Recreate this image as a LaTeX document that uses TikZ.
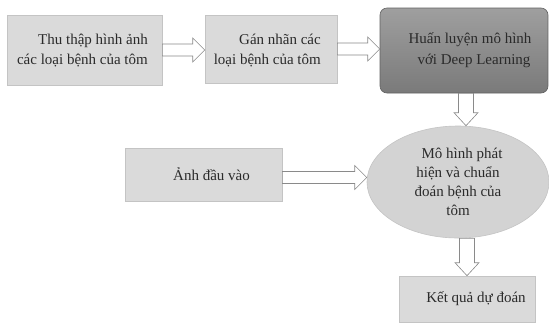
\documentclass[tikz,border=0pt]{standalone}
\usepackage{fontspec}
\setmainfont{Liberation Serif}
\usetikzlibrary{shapes.geometric,calc}
\definecolor{boxfill}{HTML}{DADADA}
\definecolor{boxline}{HTML}{C4C4C4}
\definecolor{darkfill}{HTML}{8E8E8E}
\definecolor{darkfillb}{HTML}{7A7A7A}
\definecolor{ellfill}{HTML}{D3D3D3}
\definecolor{txt}{HTML}{2A2A2A}
\definecolor{arrline}{HTML}{8A8A8A}
\tikzset{
  lbox/.style={draw=boxline, fill=boxfill, line width=0.6pt, inner sep=0pt,
    font=\fontsize{15}{20}\selectfont, text=txt},
  dbox/.style={draw=darkfillb!80!black, rounded corners=7pt, top color=darkfill!85!white,
    bottom color=darkfillb, line width=0.6pt, inner sep=0pt,
    font=\fontsize{15}{21}\selectfont, text=txt},
  ellbox/.style={ellipse, draw=boxline, fill=ellfill, line width=0.6pt, inner sep=0pt,
    font=\fontsize{15}{19}\selectfont, text=txt},
  plaintext/.style={font=\fontsize{15}{20}\selectfont, text=txt, align=right, anchor=east, inner sep=0pt},
  blockarrow/.style={draw=arrline, fill=white, line width=0.6pt, line join=miter}
}
\newcommand{\blockH}[2]{%
  \draw[blockarrow] let \p1=#1, \p2=#2 in
   (\x1,{\y1+6pt}) -- ({\x2-12pt},{\y1+6pt}) -- ({\x2-12pt},{\y1+12pt}) -- (\x2,\y1)
   -- ({\x2-12pt},{\y1-12pt}) -- ({\x2-12pt},{\y1-6pt}) -- (\x1,{\y1-6pt}) -- cycle;}
\newcommand{\blockV}[2]{%
  \draw[blockarrow] let \p1=#1, \p2=#2 in
   ({\x1-7.5pt},\y1) -- ({\x1-7.5pt},{\y2+13pt}) -- ({\x1-12pt},{\y2+13pt}) -- (\x1,\y2)
   -- ({\x1+12pt},{\y2+13pt}) -- ({\x1+7.5pt},{\y2+13pt}) -- ({\x1+7.5pt},\y1) -- cycle;}
\begin{document}
\begin{tikzpicture}[x=1pt,y=-1pt]
\useasboundingbox[fill=white] (0,0) rectangle (549,322);
\node[lbox, minimum width=155pt, minimum height=70pt] (b1) at (84.5,50) {};
\node[plaintext] (t1) at (148,51) {Thu thập hình ảnh\\các loại bệnh của tôm};
\node[lbox, minimum width=132pt, minimum height=68pt] (b2) at (271,49) {};
\node[plaintext] (t2) at (321,51) {Gán nhãn các\\loại bệnh của tôm};
\node[dbox, minimum width=168pt, minimum height=85pt, align=center] (b3) at (464,50.5)
  {\hspace*{12pt}Huấn luyện mô hình\\\hspace*{20pt}với Deep Learning};
\node[ellbox, minimum width=182pt, minimum height=112pt, align=center] (ell) at (458,182)
  {\hspace*{8pt}Mô hình phát\\hiện và chuẩn\\đoán bệnh của\\tôm};
\node[lbox, minimum width=157pt, minimum height=53pt] (b4) at (203.5,174.5)
  {\hspace*{16pt}Ảnh đầu vào};
\node[lbox, minimum width=136pt, minimum height=46pt] (b5) at (467,299)
  {\hspace*{18pt}Kết quả dự đoán};
\blockH{(b1.east)}{(b2.west)}
\blockH{(b2.east)}{(b3.west)}
\blockH{([yshift=-3pt]b4.east)}{([yshift=-3pt]b4.east -| ell.west)}
\blockV{([xshift=2pt]b3.south)}{([xshift=2pt]b3.south |- ell.north)}
\blockV{(ell.south -| b5.north)}{(b5.north)}
\end{tikzpicture}
\end{document}
